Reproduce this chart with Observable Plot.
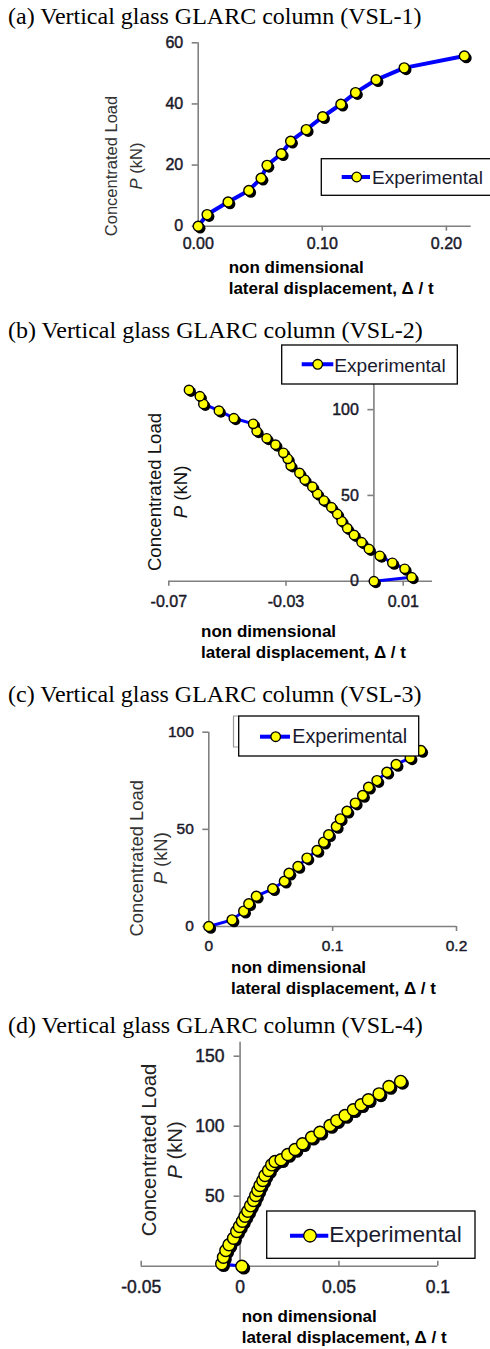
<!DOCTYPE html>
<html><head><meta charset="utf-8">
<script src="https://cdn.jsdelivr.net/npm/d3@7"></script>
<script src="https://cdn.jsdelivr.net/npm/@observablehq/plot@0.6"></script>
<style>
html,body{margin:0;padding:0;background:#fff;}
#page{position:relative;width:490px;height:1349px;overflow:hidden;background:#fff;}
#page svg{position:absolute;left:0;margin:0;display:block;}
</style></head><body><div id="page"></div>
<script>
// ---------------- DATA ----------------
// (a) VSL-1
const xA = [0, 0.0072, 0.0241, 0.0408, 0.0507, 0.0555, 0.067, 0.0745, 0.0871, 0.1003, 0.115, 0.1268, 0.1434, 0.166, 0.2145];
const yA = [0, 3.8, 7.9, 11.7, 15.7, 19.9, 23.7, 27.8, 31.6, 35.8, 39.9, 43.7, 47.9, 51.8, 55.7];
// (b) VSL-2
const xB = [0, 0.0129, 0.0105, 0.0063, 0.0020, -0.0017, -0.0042, -0.0068, -0.0091, -0.0110, -0.0125, -0.0145, -0.0171, -0.0193, -0.0210, -0.0236, -0.0254, -0.0284, -0.0294, -0.0309, -0.0336, -0.0366, -0.0400, -0.0412, -0.0478, -0.0529, -0.0582, -0.0594, -0.0631];
const yB = [0, 2.3, 7.2, 10.7, 14.8, 18.8, 22.7, 27.0, 30.9, 35.0, 39.2, 43.1, 47.0, 50.9, 55.1, 59.2, 63.1, 67.4, 71.3, 74.8, 79.6, 83.3, 87.4, 91.7, 95.0, 99.4, 103.3, 107.8, 111.5];
// (c) VSL-3
const xC = [0, 0.0188, 0.0282, 0.0323, 0.0384, 0.0516, 0.0610, 0.0648, 0.0720, 0.0793, 0.0874, 0.0927, 0.0968, 0.1030, 0.1062, 0.1116, 0.1183, 0.1242, 0.1290, 0.1358, 0.1438, 0.1513, 0.1626, 0.1712];
const yC = [0, 3.4, 7.9, 11.7, 15.6, 19.4, 23.3, 27.4, 30.9, 35.2, 39.1, 43.4, 47.2, 51.5, 55.4, 59.3, 63.5, 67.4, 71.7, 75.1, 79.4, 83.4, 86.8, 90.6];
// (d) VSL-4
const xD = [0.0009, -0.0093, -0.0084, -0.0072, -0.0056, -0.0033, -0.0017, -0.0003, 0.0012, 0.0025, 0.0039, 0.0053, 0.0068, 0.0079, 0.0090, 0.0101, 0.0115, 0.0126, 0.0144, 0.0160, 0.0177, 0.0207, 0.0241, 0.0278, 0.0316, 0.0362, 0.0404, 0.0455, 0.0489, 0.0531, 0.0573, 0.0612, 0.0649, 0.0703, 0.0753, 0.0812];
const yD = [0, 1.7, 6.4, 11.2, 15.3, 20.0, 24.8, 28.4, 32.1, 35.7, 39.3, 43.1, 46.9, 50.5, 54.1, 57.6, 61.2, 64.8, 68.4, 72.4, 74.8, 76.0, 79.8, 83.4, 87.5, 92.1, 95.7, 100.5, 104.0, 107.6, 111.7, 115.3, 118.9, 123.1, 128.4, 132.0];

// tick values and labels
const xTicksA = [0, 0.1, 0.2], xTickLabelsA = ["0.00", "0.10", "0.20"];
const yTicksA = [0, 20, 40, 60], yTickLabelsA = ["0", "20", "40", "60"];
const xTicksB = [-0.07, -0.03, 0.01], xTickLabelsB = ["-0.07", "-0.03", "0.01"];
const yTicksB = [0, 50, 100], yTickLabelsB = ["0", "50", "100"];
const xTicksC = [0, 0.1, 0.2], xTickLabelsC = ["0", "0.1", "0.2"];
const yTicksC = [0, 50, 100], yTickLabelsC = ["0", "50", "100"];
const xTicksD = [-0.05, 0, 0.05, 0.1], xTickLabelsD = ["-0.05", "0", "0.05", "0.1"];
const yTicksD = [50, 100, 150], yTickLabelsD = ["50", "100", "150"];

const titles = [
  "(a) Vertical glass GLARC column (VSL-1)",
  "(b) Vertical glass GLARC column (VSL-2)",
  "(c) Vertical glass GLARC column (VSL-3)",
  "(d) Vertical glass GLARC column (VSL-4)"
];
const yLabel1 = "Concentrated Load";
const yLabel2Var = "P", yLabel2Unit = " (kN)";
const xLabel1 = "non dimensional";
const xLabel2 = "lateral displacement, \u0394 / t";
const legendLabel = "Experimental";

// ---------------- LAYOUT ----------------
const SANS = "'Liberation Sans', Arial, sans-serif";
const SERIF = "'Liberation Serif', 'Times New Roman', serif";
const AXIS = "#808080";
const BLUE = "#0000ff", YELLOW = "#ffff00";
const TICKTXT = "#1a1a2a";

const panels = [
  {x: xA, y: yA, xt: xTicksA, xl: xTickLabelsA, yt: yTicksA, yl: yTickLabelsA,
   top: 0, height: 310, xDomain: [0, 0.22], yDomain: [0, 60],
   ml: 197.7, mr: 19.3, mt: 42.3, mb: 84.3, tickDir: 1,
   tickFont: 16, xdy: 18, ydx: -15, lw: 4, r: 5},
  {x: xB, y: yB, xt: xTicksB, xl: xTickLabelsB, yt: yTicksB, yl: yTickLabelsB,
   top: 330, height: 340, xDomain: [-0.07, 0.02], yDomain: [0, 115],
   ml: 168.3, mr: 58, mt: 53.4, mb: 89.3, tickDir: 1,
   tickFont: 16, xdy: 21, ydx: -15, lw: 3, r: 4.7},
  {x: xC, y: yC, xt: xTicksC, xl: xTickLabelsC, yt: yTicksC, yl: yTickLabelsC,
   top: 670, height: 340, xDomain: [0, 0.2], yDomain: [0, 100],
   ml: 208.3, mr: 34, mt: 61.7, mb: 84, tickDir: 1,
   tickFont: 15.5, xdy: 20, ydx: -15, lw: 3, r: 5},
  {x: xD, y: yD, xt: xTicksD, xl: xTickLabelsD, yt: yTicksD, yl: yTickLabelsD,
   top: 1010, height: 339, xDomain: [-0.05, 0.1], yDomain: [0, 160],
   ml: 140.7, mr: 52.7, mt: 31.7, mb: 83.3, tickDir: -1,
   tickFont: 17.5, xdy: 21, ydx: -15.5, lw: 3, r: 6}
];

const page = document.getElementById("page");

panels.forEach(p => {
  const data = p.x.map((v, i) => ({x: v, y: p.y[i]}));
  const xt = p.xt.map((v, i) => ({v, label: p.xl[i]}));
  const yt = p.yt.map((v, i) => ({v, label: p.yl[i]}));
  const xTickOpts = p.tickDir > 0 ? {insetBottom: -5} : {insetTop: -5};
  const chart = Plot.plot({
    width: 490, height: p.height,
    marginLeft: p.ml, marginRight: p.mr, marginTop: p.mt, marginBottom: p.mb,
    x: {domain: p.xDomain, axis: null},
    y: {domain: p.yDomain, axis: null},
    style: {background: "transparent", overflow: "visible"},
    marks: [
      Plot.ruleY([0], {stroke: AXIS, strokeWidth: 1.6}),
      Plot.ruleX([0], {stroke: AXIS, strokeWidth: 1.6}),
      Plot.ruleX(xt, {x: "v", y1: () => 0, y2: () => 0, stroke: AXIS, strokeWidth: 1.6, ...xTickOpts}),
      Plot.ruleY(yt, {y: "v", x1: () => 0, x2: () => 0, insetLeft: -6, stroke: AXIS, strokeWidth: 1.6}),
      Plot.text(xt, {x: "v", y: () => 0, text: "label", dy: p.xdy, fontSize: p.tickFont, fontFamily: SANS, fill: TICKTXT, stroke: TICKTXT, strokeWidth: 0.45}),
      Plot.text(yt, {x: () => 0, y: "v", text: "label", dx: p.ydx, textAnchor: "end", fontSize: p.tickFont, fontFamily: SANS, fill: TICKTXT, stroke: TICKTXT, strokeWidth: 0.45}),
      Plot.line(data, {x: "x", y: "y", stroke: BLUE, strokeWidth: p.lw}),
      Plot.dot(data, {x: "x", y: "y", r: p.r + 0.3, fill: "#000", dx: 2, dy: 2}),
      Plot.dot(data, {x: "x", y: "y", r: p.r, fill: YELLOW, stroke: "#000", strokeWidth: 1.4})
    ]
  });
  chart.style.top = p.top + "px";
  page.appendChild(chart);
});

// ---------------- OVERLAY: titles, axis titles, legends ----------------
const titleBase = [24, 338, 701.5, 1033.3];
const yLab = [
  {b1: 117.3, b2: 141.7, cy: 166, fs: 16.5, fill: "#333"},
  {b1: 160.7, b2: 187.3, cy: 492, fs: 18.6, fill: "#111"},
  {b1: 142.7, b2: 167.3, cy: 858.3, fs: 18.4, fill: "#333"},
  {b1: 156, b2: 181.7, cy: 1150, fs: 20.3, fill: "#222"}
];
const xLab = [
  {x: 228.7, b1: 273, b2: 294},
  {x: 201, b1: 636.7, b2: 658.3},
  {x: 231, b1: 973.3, b2: 994.3},
  {x: 241.7, b1: 1321.7, b2: 1342.7}
];
const legends = [
  {x0: 321.3, x1: 495, y0: 158.7, y1: 195.3, l0: 341.7, l1: 370, ly: 177, mx: 356.7, tx: 372, tb: 184, fs: 19, r: 4.8},
  {x0: 281.7, x1: 457.3, y0: 345, y1: 384, l0: 301.7, l1: 333.3, ly: 364.3, mx: 317.7, tx: 334.3, tb: 371.5, fs: 19.1, r: 4.8},
  {x0: 238.7, x1: 418.7, y0: 716, y1: 756, l0: 260, l1: 290, ly: 736.7, mx: 275.7, tx: 292.3, tb: 743.3, fs: 19.7, r: 4.8},
  {x0: 266.7, x1: 475, y0: 1211, y1: 1258.3, l0: 290, l1: 328.3, ly: 1235.7, mx: 310, tx: 329.3, tb: 1242.3, fs: 22.7, r: 6.3}
];

const ov = d3.create("svg").attr("width", 490).attr("height", 1349).style("top", "0px");

// faint bracket behind legend (c)
ov.append("path").attr("d", "M238,716 H233.5 V747 H238").attr("fill", "none").attr("stroke", "#999").attr("stroke-width", 1.2);

titles.forEach((t, i) => {
  ov.append("text").attr("x", 8).attr("y", titleBase[i]).attr("font-family", SERIF)
    .attr("font-size", 24).attr("fill", "#000").text(t);
  const yl = yLab[i];
  ov.append("text").attr("transform", `translate(${yl.b1},${yl.cy}) rotate(-90)`)
    .attr("text-anchor", "middle").attr("font-family", SANS).attr("font-size", yl.fs)
    .attr("fill", yl.fill).text(yLabel1);
  const t2 = ov.append("text").attr("transform", `translate(${yl.b2},${yl.cy}) rotate(-90)`)
    .attr("text-anchor", "middle").attr("font-family", SANS).attr("font-size", yl.fs)
    .attr("fill", yl.fill);
  t2.append("tspan").attr("font-style", "italic").text(yLabel2Var);
  t2.append("tspan").text(yLabel2Unit);
  const xl = xLab[i];
  ov.append("text").attr("x", xl.x).attr("y", xl.b1).attr("font-family", SANS).attr("font-weight", "bold")
    .attr("font-size", 17).attr("fill", "#000").text(xLabel1);
  ov.append("text").attr("x", xl.x).attr("y", xl.b2).attr("font-family", SANS).attr("font-weight", "bold")
    .attr("font-size", 17).attr("fill", "#000").text(xLabel2);
  const L = legends[i];
  ov.append("rect").attr("x", L.x0).attr("y", L.y0).attr("width", L.x1 - L.x0).attr("height", L.y1 - L.y0)
    .attr("fill", "#fff").attr("stroke", "#000").attr("stroke-width", 1.3);
  ov.append("line").attr("x1", L.l0).attr("x2", L.l1).attr("y1", L.ly).attr("y2", L.ly)
    .attr("stroke", BLUE).attr("stroke-width", 4);
  ov.append("circle").attr("cx", L.mx).attr("cy", L.ly).attr("r", L.r)
    .attr("fill", YELLOW).attr("stroke", "#000").attr("stroke-width", 1.3);
  ov.append("text").attr("x", L.tx).attr("y", L.tb).attr("font-family", SANS)
    .attr("font-size", L.fs).attr("fill", "#1a1a2e").text(legendLabel);
});

page.appendChild(ov.node());
</script>
</body></html>
